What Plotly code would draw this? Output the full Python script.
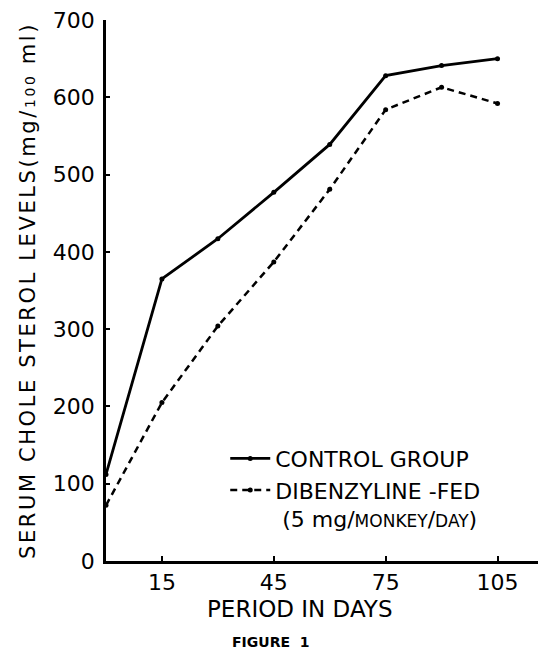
import plotly.graph_objects as go

days = [0, 15, 30, 45, 60, 75, 90, 105]
control = [112, 365, 417, 477, 539, 628, 641, 650]
dibenzyline = [72, 205, 304, 387, 481, 584, 613, 592]
x_ticks = [15, 45, 75, 105]
y_ticks = [0, 100, 200, 300, 400, 500, 600, 700]

FONT = "DejaVu Sans"

fig = go.Figure()
fig.add_trace(go.Scatter(
    x=days, y=control, mode="lines+markers", name="CONTROL GROUP",
    line=dict(color="black", width=2.8),
    marker=dict(color="black", size=5),
))
fig.add_trace(go.Scatter(
    x=days, y=dibenzyline, mode="lines+markers",
    name="DIBENZYLINE -FED<br>&nbsp;(5 mg/<span style='font-size:17px'>MONKEY</span>/<span style='font-size:17px'>DAY</span>)",
    line=dict(color="black", width=2.5, dash="7px,5px"),
    marker=dict(color="black", size=5),
))

fig.update_layout(
    width=538, height=645,
    margin=dict(l=98, r=0, t=9, b=92),
    paper_bgcolor="white", plot_bgcolor="white",
    font=dict(family=FONT, color="black", size=20),
    showlegend=True,
    legend=dict(
        x=0.271, y=0.228, xanchor="left", yanchor="top",
        bgcolor="rgba(0,0,0,0)", font=dict(size=22, family=FONT),
        valign="top", tracegroupgap=11, itemwidth=40,
    ),
    xaxis=dict(
        range=[0, 118], tickvals=x_ticks, ticktext=[str(v) for v in x_ticks],
        showline=True, linecolor="black", linewidth=2.5, mirror=False,
        ticks="inside", ticklen=5, tickwidth=2, tickcolor="black",
        showgrid=False, zeroline=False, tickfont=dict(size=22),
        ticklabelstandoff=0,
    ),
    yaxis=dict(
        range=[0, 700], tickvals=y_ticks, ticktext=[str(v) for v in y_ticks],
        showline=True, linecolor="black", linewidth=2.5,
        ticks="inside", ticklen=4, tickwidth=2, tickcolor="black",
        showgrid=False, zeroline=False, tickfont=dict(size=22),
        ticklabelstandoff=4, ticklabeloverflow="allow",
        title=dict(
            text="<span style='letter-spacing:2.6px'>SERUM CHOLE STEROL LEVELS(mg/<span style='font-size:14px'>100</span> ml)</span>",
            font=dict(size=21), standoff=12,
        ),
    ),
    annotations=[
        dict(text="PERIOD IN DAYS", xref="paper", yref="paper",
             x=0.441, y=-0.088, xanchor="center", yanchor="middle",
             showarrow=False, font=dict(size=23, family=FONT)),
        dict(text="<b>FIGURE  1</b>", xref="paper", yref="paper",
             x=0.374, y=-0.149, xanchor="center", yanchor="middle",
             showarrow=False, font=dict(size=14, family=FONT)),
    ],
)

fig.write_html("out.html")
